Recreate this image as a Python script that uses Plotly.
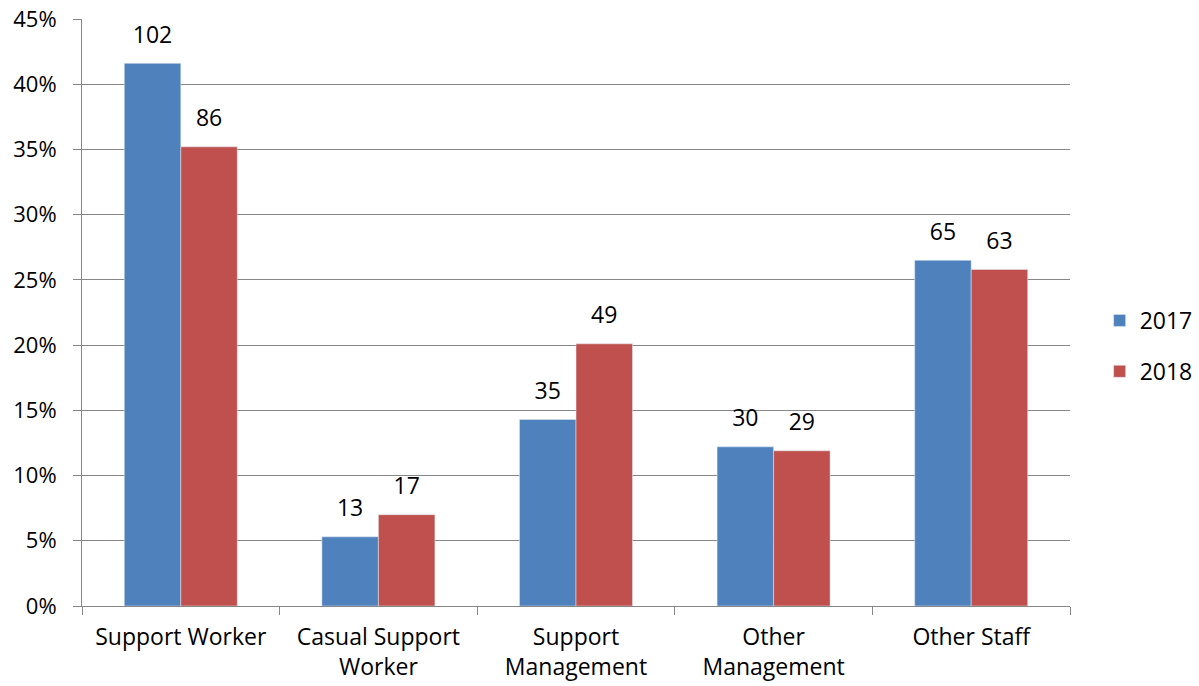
import plotly.graph_objects as go

categories = ["Support Worker", "Casual Support<br>Worker", "Support<br>Management",
              "Other<br>Management", "Other Staff"]
pct_2017 = [41.6, 5.3, 14.3, 12.2, 26.5]
pct_2018 = [35.2, 7.0, 20.1, 11.9, 25.8]
count_2017 = [102, 13, 35, 30, 65]
count_2018 = [86, 17, 49, 29, 63]
y_ticks = [0, 5, 10, 15, 20, 25, 30, 35, 40, 45]
y_tick_text = ["0%", "5%", "10%", "15%", "20%", "25%", "30%", "35%", "40%", "45%"]

FONT = "Open Sans, sans-serif"
GRID = "#868686"
FS = 23
GAP = 0.428

fig = go.Figure()
for name, vals, counts, color in [("2017", pct_2017, count_2017, "#4F81BD"),
                                  ("2018", pct_2018, count_2018, "#C0504D")]:
    fig.add_trace(go.Bar(name=name, x=categories, y=vals, marker_color=color,
                         legendgroup=name, hoverinfo="skip"))
for name, vals, counts in [("2017", pct_2017, count_2017),
                           ("2018", pct_2018, count_2018)]:
    fig.add_trace(go.Scatter(x=categories, y=vals, text=counts, mode="markers+text",
                             textposition="top center", legendgroup=name,
                             marker=dict(size=22, color="rgba(0,0,0,0)"),
                             textfont=dict(size=FS, color="black", family=FONT),
                             showlegend=False, cliponaxis=False, hoverinfo="skip"))

fig.update_layout(
    width=1199, height=686,
    margin=dict(l=82, r=129, t=19, b=80, autoexpand=False),
    paper_bgcolor="white", plot_bgcolor="white",
    barmode="group", bargap=GAP, bargroupgap=0,
    scattermode="group", scattergap=GAP,
    font=dict(family=FONT, size=FS, color="black"),
    legend=dict(x=1.03, y=0.443, xanchor="left", yanchor="middle",
                font=dict(size=FS), tracegroupgap=18, traceorder="grouped",
                itemwidth=30),
    showlegend=True,
)
fig.update_yaxes(range=[0, 45], tickvals=y_ticks, ticktext=y_tick_text,
                 showgrid=True, gridcolor=GRID, gridwidth=1,
                 showline=True, linecolor=GRID, linewidth=1,
                 ticks="outside", ticklen=8, tickcolor=GRID, ticklabelstandoff=12,
                 tickfont=dict(size=22), zeroline=False, automargin=False)
fig.update_xaxes(showline=True, linecolor=GRID, linewidth=1,
                 ticks="outside", ticklen=8, tickcolor=GRID, ticklabelstandoff=10,
                 tickson="boundaries", tickfont=dict(size=FS), automargin=False)

fig.write_html("out.html", config={"displayModeBar": False},
               post_script="document.body.style.margin='0';document.body.style.overflow='hidden';")
